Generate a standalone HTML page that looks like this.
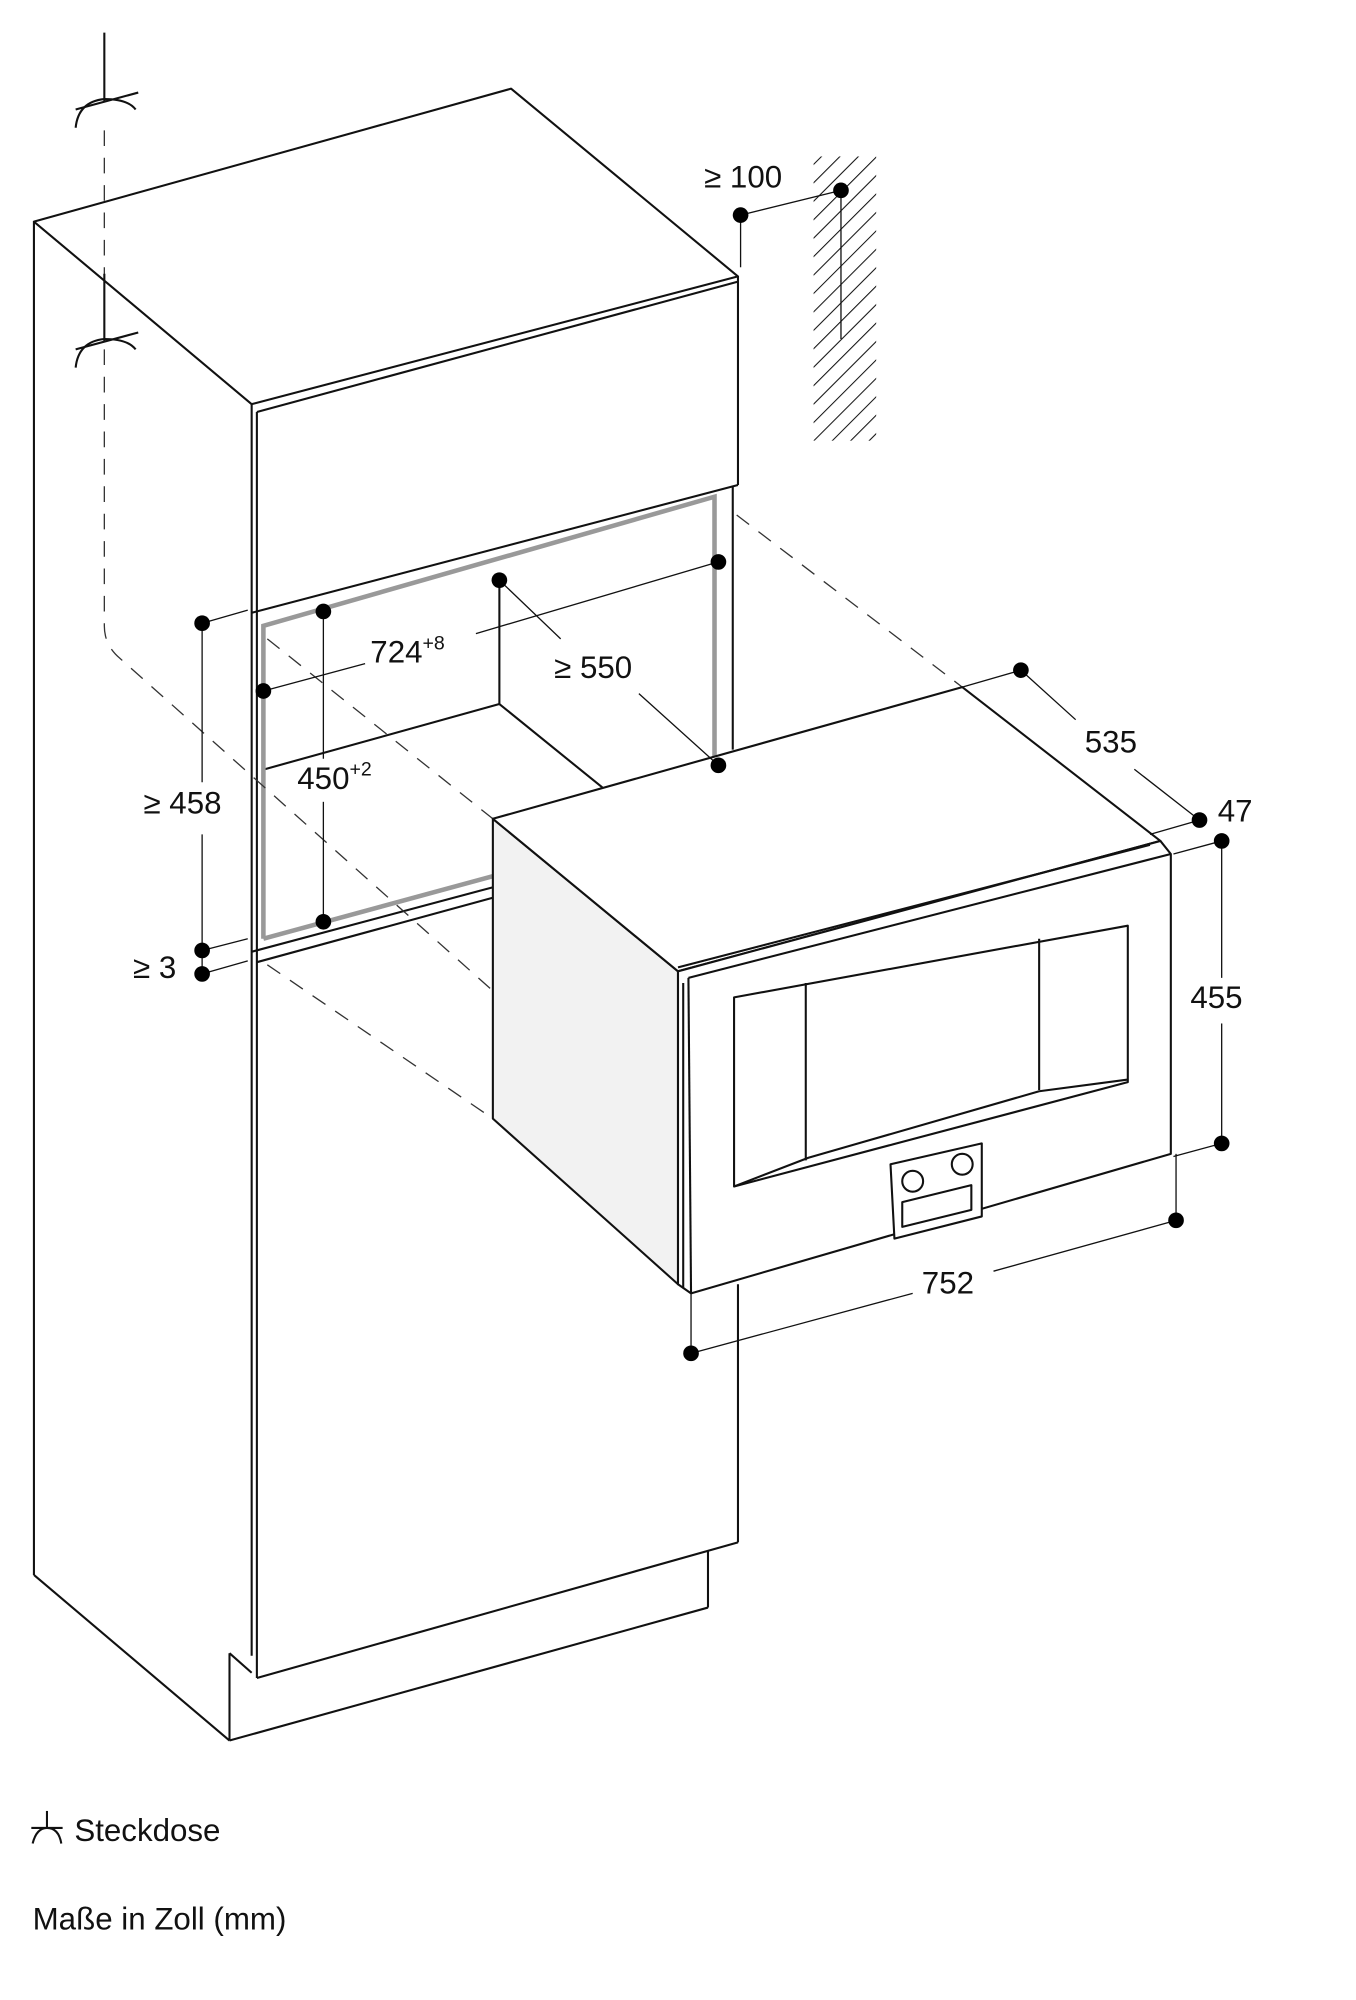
<!DOCTYPE html>
<html><head><meta charset="utf-8"><style>
html,body{margin:0;padding:0;background:#fff}
svg{display:block}
text{font-family:"Liberation Sans",sans-serif;fill:#111}
</style></head><body>
<svg width="1356" height="2000" viewBox="0 0 1040 1534" xmlns="http://www.w3.org/2000/svg">
<defs><pattern id="h" width="10" height="10" patternUnits="userSpaceOnUse" patternTransform="rotate(45)"><line x1="0" y1="0" x2="0" y2="10" stroke="#111" stroke-width="1.6"/></pattern></defs>
<g fill="none" stroke="#111" stroke-width="1.6" stroke-linejoin="round">
<!-- hatching wall -->
<rect x="624" y="120" width="48" height="218" fill="url(#h)" stroke="none"/>
<!-- cabinet top -->
<polygon points="26,170 392,68 566,212 193,310" fill="#fff"/>
<line x1="26" y1="170" x2="26" y2="1208"/>
<line x1="26" y1="1208" x2="176" y2="1335"/>
<line x1="193" y1="310" x2="193" y2="1270"/>
<line x1="197" y1="316" x2="197" y2="1287"/>
<line x1="197" y1="316" x2="566" y2="216"/>
<line x1="566" y1="212" x2="566" y2="372"/>
<line x1="193" y1="470" x2="566" y2="372"/>
<line x1="562" y1="373" x2="562" y2="575"/>
<!-- opening -->
<line x1="383" y1="445" x2="383" y2="540"/>
<line x1="203" y1="590" x2="383" y2="540"/>
<line x1="383" y1="540" x2="462" y2="604"/>
<line x1="193" y1="730" x2="380" y2="680"/>
<line x1="197" y1="738" x2="380" y2="688"/>
<!-- lower -->
<line x1="197" y1="1287" x2="566" y2="1183"/>
<line x1="566" y1="985" x2="566" y2="1183"/>
<line x1="543" y1="1190" x2="543" y2="1233"/>
<line x1="176" y1="1335" x2="543" y2="1233"/>
<line x1="176" y1="1268" x2="176" y2="1335"/>
<line x1="176" y1="1268" x2="193" y2="1283"/>
</g>
<!-- gray opening outline -->
<polyline points="202,720 202,480 548,381 548,582" fill="none" stroke="#999" stroke-width="3.5"/>
<line x1="202" y1="720" x2="378" y2="672" stroke="#999" stroke-width="3.5"/>
<!-- dashed -->
<g stroke="#333" stroke-width="1" stroke-dasharray="12,9" fill="none">
<path d="M80,100 V480 Q80,495 92,505 L378,760"/>
<line x1="565" y1="395" x2="738" y2="527"/>
<line x1="205" y1="490" x2="378" y2="628"/>
<line x1="205" y1="740" x2="378" y2="858"/>
</g>
<g stroke="#111" stroke-width="1.6" fill="none">
<!-- sockets -->
<line x1="80" y1="25" x2="80" y2="78"/><line x1="58" y1="84" x2="106" y2="71"/>
<path d="M58,98 Q60,78 80,76 Q98,76 104,84"/>
<line x1="80" y1="210" x2="80" y2="262"/><line x1="58" y1="268" x2="106" y2="255"/>
<path d="M58,282 Q60,262 80,260 Q98,260 104,268"/>
</g>
<!-- oven -->
<g stroke="#111" stroke-width="1.6" stroke-linejoin="round">
<polygon points="378,628 378,858 520,985 520,745" fill="#f2f2f2"/>
<polygon points="378,628 738,527 890,645 520,745" fill="#fff"/>
<polygon points="520,745 890,645 898,655 898,885 530,992 520,985" fill="#fff"/>
<line x1="528" y1="750" x2="898" y2="655"/>
<line x1="528" y1="750" x2="530" y2="992"/>
<line x1="520" y1="742" x2="882" y2="648"/>
<line x1="524" y1="754" x2="524" y2="988"/>
<polygon points="563,765 865,710 865,830 563,910" fill="#fff"/>
<line x1="618" y1="754" x2="618" y2="890"/>
<line x1="797" y1="720" x2="797" y2="836"/>
<polyline points="563,910 620,888 797,837 865,828" fill="none"/>
<polygon points="683,893 753,877 753,933 686,950" fill="#fff"/>
<circle cx="700" cy="906" r="8" fill="#fff"/><circle cx="738" cy="893" r="8" fill="#fff"/>
<polygon points="692,922 745,909 745,928 692,941" fill="#fff"/>
</g>
<!-- dimension lines -->
<g stroke="#111" stroke-width="1" fill="none">
<line x1="568" y1="165" x2="645" y2="146"/><line x1="568" y1="165" x2="568" y2="205"/><line x1="645" y1="146" x2="645" y2="260"/>
<line x1="202" y1="530" x2="280" y2="509"/><line x1="365" y1="486" x2="551" y2="431"/>
<line x1="155" y1="478" x2="155" y2="600"/><line x1="155" y1="640" x2="155" y2="747"/>
<line x1="155" y1="478" x2="190" y2="468"/><line x1="155" y1="729" x2="190" y2="720"/><line x1="155" y1="747" x2="190" y2="737"/>
<line x1="248" y1="469" x2="248" y2="582"/><line x1="248" y1="615" x2="248" y2="707"/>
<line x1="383" y1="445" x2="430" y2="490"/><line x1="490" y1="532" x2="551" y2="587"/>
<line x1="738" y1="527" x2="783" y2="514"/>
<line x1="783" y1="514" x2="825" y2="552"/><line x1="870" y1="590" x2="920" y2="629"/>
<line x1="882" y1="640" x2="920" y2="629"/><line x1="900" y1="655" x2="937" y2="645"/>
<line x1="937" y1="645" x2="937" y2="750"/><line x1="937" y1="785" x2="937" y2="877"/><line x1="900" y1="887" x2="937" y2="877"/>
<line x1="530" y1="985" x2="530" y2="1038"/><line x1="902" y1="885" x2="902" y2="936"/>
<line x1="530" y1="1038" x2="700" y2="992"/><line x1="762" y1="975" x2="902" y2="936"/>
</g>
<g fill="#000">
<circle cx="568" cy="165" r="6"/><circle cx="645" cy="146" r="6"/>
<circle cx="202" cy="530" r="6"/><circle cx="551" cy="431" r="6"/>
<circle cx="155" cy="478" r="6"/><circle cx="155" cy="729" r="6"/><circle cx="155" cy="747" r="6"/>
<circle cx="248" cy="469" r="6"/><circle cx="248" cy="707" r="6"/>
<circle cx="383" cy="445" r="6"/><circle cx="551" cy="587" r="6"/>
<circle cx="783" cy="514" r="6"/><circle cx="920" cy="629" r="6"/><circle cx="937" cy="645" r="6"/>
<circle cx="937" cy="877" r="6"/><circle cx="530" cy="1038" r="6"/><circle cx="902" cy="936" r="6"/>
</g>
<g font-size="24">
<text x="540" y="144">≥ 100</text>
<text x="284" y="508">724<tspan font-size="15" dy="-10">+8</tspan></text>
<text x="425" y="520">≥ 550</text>
<text x="110" y="624">≥ 458</text>
<text x="228" y="605">450<tspan font-size="15" dy="-10">+2</tspan></text>
<text x="102" y="750">≥ 3</text>
<text x="832" y="577">535</text>
<text x="934" y="630">47</text>
<text x="913" y="773">455</text>
<text x="707" y="992">752</text>
<text x="57" y="1412">Steckdose</text>
<text x="25" y="1480">Maße in Zoll (mm)</text>
</g>
<g stroke="#111" stroke-width="1.6" fill="none">
<line x1="36" y1="1389" x2="36" y2="1402"/><line x1="24" y1="1402" x2="48" y2="1402"/>
<path d="M25,1414 Q28,1402 36,1402 Q45,1402 47,1414"/>
</g>
</svg>
</body></html>
